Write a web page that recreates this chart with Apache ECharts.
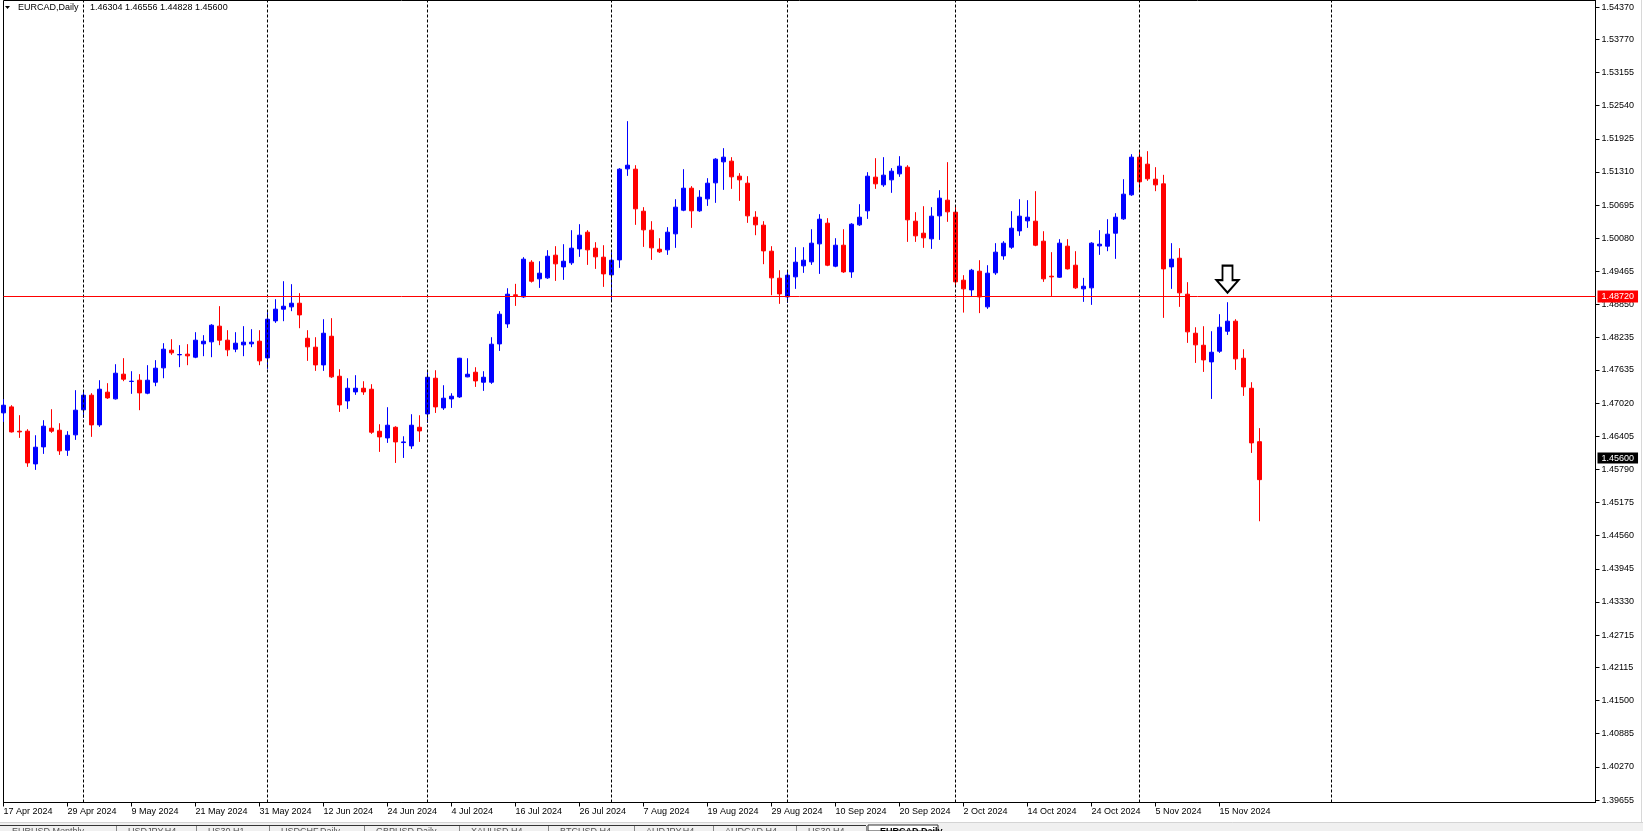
<!DOCTYPE html>
<html><head><meta charset="utf-8">
<script src="https://cdn.jsdelivr.net/npm/echarts@6/dist/echarts.min.js"></script>
<style>html,body{margin:0;padding:0;background:#fff;overflow:hidden}#c{width:1643px;height:831px}</style>
</head><body><div id="c"></div>
<script>
// ---- data (EURCAD Daily) ----
const symbolName = 'EURCAD,Daily';
const startDate = '2024-04-17';
const open = [
1.46839,1.46950,1.46499,1.46499,1.45892,1.46208,1.46554,1.46517,1.46146,1.46431,
1.46895,1.47167,1.46616,1.47223,1.47099,1.47557,1.47421,1.47445,1.47204,1.47408,
1.47674,1.48002,1.47916,1.47928,1.47872,1.48120,1.48157,1.48448,1.48188,1.48021,
1.48101,1.48120,1.48169,1.47859,1.48546,1.48763,1.48806,1.48874,1.48224,1.48058,
1.47729,1.48261,1.47519,1.47061,1.47228,1.47296,1.47278,1.46498,1.46374,1.46572,
1.46288,1.46226,1.46572,1.46820,1.47482,1.46931,1.47098,1.47135,1.47507,1.47593,
1.47408,1.47408,1.48119,1.48490,1.49029,1.48991,1.49635,1.49326,1.49344,1.49765,
1.49548,1.49623,1.49882,1.50192,1.49895,1.49728,1.49400,1.49678,1.51367,1.51361,
1.50581,1.50229,1.49876,1.49864,1.50161,1.50600,1.51008,1.50588,1.50810,1.51107,
1.51497,1.51510,1.51231,1.51101,1.50470,1.50322,1.49839,1.49338,1.48991,1.49363,
1.49567,1.49641,1.49975,1.50359,1.49561,1.49950,1.49455,1.50328,1.50588,1.51213,
1.51070,1.51163,1.51274,1.51398,1.50396,1.50173,1.50068,1.50495,1.50786,1.50563,
1.49301,1.49121,1.49468,1.48806,1.49437,1.49752,1.49913,1.50216,1.50402,1.50396,
1.50025,1.49375,1.49356,1.49932,1.49579,1.49140,1.49159,1.49938,1.49932,1.50173,
1.50439,1.50885,1.51584,1.51454,1.51175,1.51089,1.49548,1.49709,1.49041,1.48317,
1.48094,1.47785,1.47983,1.48354,1.48540,1.47853,1.47296,1.46304];
const high = [
1.47093,1.46981,1.46796,1.46536,1.46424,1.46703,1.46907,1.46647,1.46499,1.47260,
1.47260,1.47204,1.47445,1.47390,1.47742,1.47854,1.47612,1.47557,1.47724,1.47817,
1.48132,1.48206,1.48095,1.48114,1.48336,1.48281,1.48485,1.48819,1.48373,1.48336,
1.48448,1.48392,1.48373,1.48707,1.48948,1.49282,1.49227,1.49060,1.48373,1.48243,
1.48577,1.48596,1.47649,1.47482,1.47538,1.47426,1.47371,1.46628,1.46944,1.46591,
1.46405,1.46814,1.46795,1.47593,1.47630,1.47352,1.47203,1.47860,1.47853,1.47686,
1.47612,1.48243,1.48726,1.49152,1.49233,1.49728,1.49672,1.49653,1.49858,1.49932,
1.49969,1.50229,1.50340,1.50229,1.50006,1.49950,1.49820,1.51380,1.52252,1.51435,
1.50656,1.50396,1.50080,1.50285,1.50804,1.51361,1.51046,1.50971,1.51194,1.51565,
1.51751,1.51584,1.51287,1.51231,1.50581,1.50396,1.49932,1.49486,1.49486,1.49913,
1.49913,1.50247,1.50526,1.50452,1.50080,1.50247,1.50359,1.50711,1.51305,1.51565,
1.51584,1.51380,1.51602,1.51435,1.50563,1.50674,1.50656,1.50971,1.51491,1.50693,
1.49394,1.49511,1.49672,1.49579,1.49988,1.50025,1.50582,1.50804,1.50786,1.50953,
1.50210,1.49821,1.50062,1.50062,1.49839,1.49344,1.50006,1.50229,1.50433,1.50544,
1.51175,1.51639,1.51695,1.51695,1.51398,1.51256,1.49988,1.49895,1.49264,1.48428,
1.48447,1.48354,1.48670,1.48892,1.48577,1.48020,1.47408,1.46556];
const low = [
1.46672,1.46474,1.46375,1.45837,1.45781,1.46078,1.46468,1.46059,1.46041,1.46338,
1.46746,1.46394,1.46579,1.47099,1.47086,1.47427,1.47192,1.46889,1.47185,1.47334,
1.47482,1.47916,1.47687,1.47724,1.47854,1.47891,1.47872,1.48095,1.47891,1.47965,
1.47891,1.48058,1.47724,1.47655,1.48509,1.48540,1.48726,1.48410,1.47804,1.47618,
1.47618,1.47488,1.46857,1.46913,1.47173,1.47173,1.46449,1.46115,1.46282,1.45910,
1.46003,1.46170,1.46300,1.46653,1.46838,1.46894,1.46931,1.47117,1.47500,1.47321,
1.47247,1.47377,1.47989,1.48416,1.48824,1.48973,1.49257,1.49158,1.49326,1.49288,
1.49307,1.49585,1.49734,1.49585,1.49511,1.49177,1.48899,1.49530,1.51237,1.50328,
1.49919,1.49678,1.49808,1.49771,1.49901,1.50581,1.50272,1.50569,1.50680,1.50736,
1.50977,1.50996,1.50773,1.50365,1.50136,1.49598,1.49022,1.48862,1.48880,1.49140,
1.49437,1.49585,1.49418,1.49561,1.49542,1.49437,1.49344,1.50309,1.50439,1.50996,
1.51033,1.50922,1.51219,1.50012,1.50012,1.49901,1.49882,1.50049,1.50384,1.49177,
1.48700,1.48991,1.48690,1.48769,1.49400,1.49680,1.49882,1.50124,1.50272,1.49932,
1.49270,1.48991,1.49344,1.49499,1.49140,1.48899,1.48843,1.49771,1.49839,1.49697,
1.50420,1.50866,1.50977,1.51145,1.50953,1.48602,1.49140,1.48806,1.48138,1.47766,
1.47599,1.47098,1.47952,1.48286,1.47637,1.47154,1.46096,1.44828];
const close = [
1.46981,1.46486,1.46486,1.45911,1.46202,1.46592,1.46499,1.46134,1.46424,1.46889,
1.47167,1.46616,1.47278,1.47117,1.47575,1.47464,1.47427,1.47210,1.47445,1.47668,
1.48021,1.47953,1.47922,1.47897,1.48188,1.48169,1.48466,1.48188,1.48008,1.48132,
1.48151,1.48151,1.47804,1.48577,1.48763,1.48818,1.48874,1.48657,1.48064,1.47729,
1.48317,1.47507,1.46987,1.47296,1.47296,1.47228,1.46480,1.46393,1.46610,1.46300,
1.46300,1.46610,1.46504,1.47500,1.46950,1.47111,1.47148,1.47853,1.47556,1.47432,
1.47500,1.48113,1.48670,1.49041,1.49016,1.49691,1.49282,1.49431,1.49746,1.49604,
1.49653,1.49895,1.50136,1.49864,1.49734,1.49418,1.49672,1.51361,1.51435,1.50625,
1.50235,1.49901,1.49827,1.50192,1.50656,1.51008,1.50588,1.50841,1.51101,1.51547,
1.51584,1.51219,1.51163,1.50495,1.50328,1.49845,1.49344,1.49047,1.49394,1.49635,
1.49672,1.49988,1.50433,1.49579,1.49950,1.49455,1.50340,1.50470,1.51231,1.51089,
1.51250,1.51324,1.51417,1.50421,1.50124,1.50087,1.50489,1.50823,1.50569,1.49270,
1.49140,1.49486,1.48991,1.49431,1.49821,1.49988,1.50266,1.50489,1.50470,1.49950,
1.49326,1.49363,1.49988,1.49511,1.49159,1.49189,1.49988,1.49969,1.50155,1.50470,
1.50897,1.51584,1.51126,1.51182,1.51070,1.49511,1.49691,1.49066,1.48342,1.48101,
1.47822,1.47964,1.48428,1.48540,1.47841,1.47321,1.46282,1.45600];
const yTickLabels = ['1.39655','1.40270','1.40885','1.41500','1.42115','1.42715','1.43330','1.43945',
  '1.44560','1.45175','1.45790','1.46405','1.47020','1.47635','1.48235','1.48850','1.49465',
  '1.50080','1.50695','1.51310','1.51925','1.52540','1.53155','1.53770','1.54370'];
const levelPrice = 1.48720;
const bidPrice = 1.45600;
const separatorDates = ['1 May 2024','3 Jun 2024','1 Jul 2024','1 Aug 2024','2 Sep 2024','1 Oct 2024','1 Nov 2024','1 Dec 2024'];
const arrowDate = '18 Nov 2024';
const arrowPrice = 1.49320;
const futureDays = 42;
const tabLabels = ['EURUSD,Monthly','USDJPY,H4','US30,H1','USDCHF,Daily','GBPUSD,Daily','XAUUSD,H4','BTCUSD,H4','AUDJPY,H4','AUDCAD,H4','US30,H4'];
const tabEdges = [0,116,196,269,364,459,548,634,713,796,866];

// ---- categories: trading days, then calendar days into the future ----
const MON = ['Jan','Feb','Mar','Apr','May','Jun','Jul','Aug','Sep','Oct','Nov','Dec'];
const fmt = d => d.getUTCDate() + ' ' + MON[d.getUTCMonth()] + ' ' + d.getUTCFullYear();
const categories = [];
const d = new Date(startDate + 'T00:00:00Z');
while (categories.length < open.length) {
  const wd = d.getUTCDay();
  if (wd !== 0 && wd !== 6) categories.push(fmt(d));
  d.setUTCDate(d.getUTCDate() + 1);
}
for (let k = 0; k < futureDays; k++) { categories.push(fmt(d)); d.setUTCDate(d.getUTCDate() + 1); }

const candles = open.map((o, i) => [o, close[i], low[i], high[i]]);
const n = open.length;
const showDate = (idx) => idx % 8 === 0 && idx < n;
const FONT = '"Liberation Sans", Arial, sans-serif';
const last = n - 1;
const ohlcText = [open[last], high[last], low[last], close[last]].map(v => v.toFixed(5)).join(' ');

const graphics = [
  { type: 'polygon', shape: { points: [[5, 6], [10, 6], [7.5, 9]] }, style: { fill: '#000' }, z: 10 },
  { type: 'text', x: 18, y: 8, style: { text: symbolName, font: '9px ' + FONT, fill: '#000', verticalAlign: 'middle' }, z: 10 },
  { type: 'text', x: 90, y: 8, style: { text: ohlcText, font: '9px ' + FONT, fill: '#000', verticalAlign: 'middle' }, z: 10 },
  { type: 'line', shape: { x1: 1641.5, y1: 0, x2: 1641.5, y2: 822 }, style: { stroke: '#d8d8d8', lineWidth: 1 } },
  { type: 'rect', shape: { x: 0, y: 822, width: 1643, height: 9 }, style: { fill: '#f0f0f0' } },
  { type: 'line', shape: { x1: 0, y1: 822.5, x2: 1643, y2: 822.5 }, style: { stroke: '#d4d4d4', lineWidth: 1 } },
  { type: 'line', shape: { x1: 0, y1: 825.5, x2: 866, y2: 825.5 }, style: { stroke: '#333', lineWidth: 1 } },
  { type: 'rect', shape: { x: 868, y: 825, width: 70, height: 6 }, style: { fill: '#fff', stroke: '#333', lineWidth: 1 } },
  { type: 'text', x: 880, y: 827, style: { text: 'EURCAD,Daily', font: 'bold 9px ' + FONT, fill: '#000' } }
];
tabLabels.forEach((t, i) => {
  graphics.push({ type: 'line', shape: { x1: tabEdges[i + 1] + 0.5, y1: 826, x2: tabEdges[i + 1] + 0.5, y2: 831 }, style: { stroke: '#888', lineWidth: 1 } });
  graphics.push({ type: 'text', x: tabEdges[i] + 12, y: 827.5, style: { text: t, font: '9px ' + FONT, fill: '#555' } });
});

const chart = echarts.init(document.getElementById('c'), null, { renderer: 'canvas' });
chart.setOption({
  animation: false,
  backgroundColor: '#fff',
  grid: { left: 3.5, right: 47.5, top: 0.5, bottom: 28.5, show: true, borderColor: '#000', borderWidth: 1, backgroundColor: 'transparent' },
  xAxis: {
    type: 'category', data: categories, boundaryGap: false,
    axisLine: { show: true, lineStyle: { color: '#000', width: 1 } },
    axisTick: { show: true, inside: false, length: 4, interval: showDate, lineStyle: { color: '#000' } },
    axisLabel: { interval: showDate, align: 'left', margin: 5, color: '#000', fontSize: 9, fontFamily: FONT },
    splitLine: { show: false }
  },
  yAxis: {
    type: 'value', position: 'right', min: 1.39609, max: 1.54491,
    axisLine: { show: true, lineStyle: { color: '#000', width: 1 } },
    axisTick: { show: true, inside: false, length: 4, customValues: yTickLabels.map(Number), lineStyle: { color: '#000' } },
    axisLabel: { customValues: yTickLabels.map(Number), formatter: v => v.toFixed(5), margin: 6, color: '#000', fontSize: 9, fontFamily: FONT },
    splitLine: { show: false }
  },
  series: [{
    type: 'candlestick', data: candles, barWidth: 4, clip: true,
    itemStyle: { color: '#0000ff', color0: '#ff0000', borderColor: '#0000ff', borderColor0: '#ff0000', borderWidth: 1 },
    emphasis: { disabled: true },
    markLine: {
      silent: true, symbol: ['none', 'none'], animation: false,
      data: separatorDates.map(s => ({ xAxis: s, lineStyle: { type: [3, 2], color: '#000', width: 1 }, label: { show: false } }))
        .concat([
          { yAxis: levelPrice, lineStyle: { type: 'solid', color: '#ff0000', width: 1 },
            label: { show: true, position: 'end', distance: 2, formatter: levelPrice.toFixed(5), color: '#fff', backgroundColor: '#ff0000', padding: [2, 4, 1, 4], fontSize: 9, fontFamily: FONT } },
          { yAxis: bidPrice, lineStyle: { type: 'solid', color: 'rgba(0,0,0,0)', width: 0 },
            label: { show: true, position: 'end', distance: 2, formatter: bidPrice.toFixed(5), color: '#fff', backgroundColor: '#000', padding: [1, 4, 1, 4], fontSize: 9, fontFamily: FONT } }
        ])
    },
    markPoint: {
      silent: true, animation: false,
      data: [{ coord: [arrowDate, arrowPrice], symbol: 'path://M6,0 L16,0 L16,14 L22,14 L11,26 L0,14 L6,14 Z', symbolSize: [22, 27],
        itemStyle: { color: '#fff', borderColor: '#000', borderWidth: 2 }, label: { show: false } }]
    }
  }],
  graphic: graphics
});
</script>
</body></html>
